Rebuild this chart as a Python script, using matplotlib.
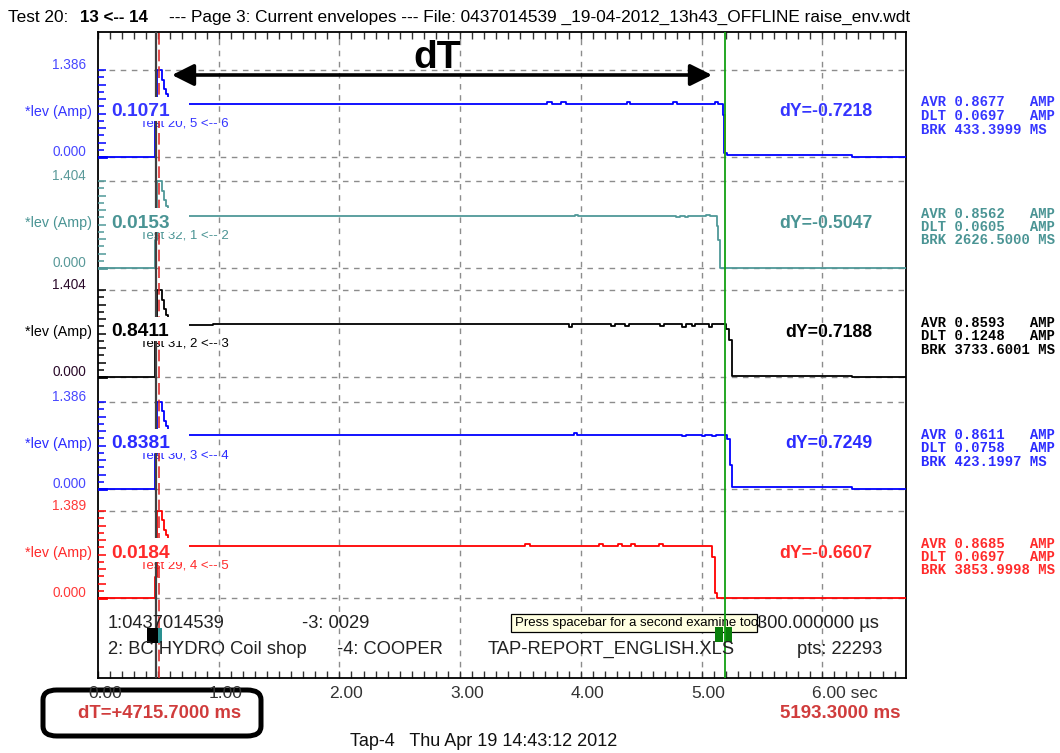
import matplotlib
matplotlib.use("Agg")
import matplotlib.pyplot as plt
import numpy as np
from matplotlib.patches import Rectangle, FancyBboxPatch

plt.rcParams['font.family'] = ['Liberation Sans', 'DejaVu Sans']

# ---------------- data ----------------
trace_names = ["Test 20, 5 <-- 6", "Test 32, 1 <-- 2", "Test 31, 2 <-- 3",
               "Test 30, 3 <-- 4", "Test 29, 4 <-- 5"]
trace_colors = ["#0000ff", "#4f9898", "#000000", "#0000ff", "#ff0000"]
label_colors = ["#3535ff", "#4a9494", "#000000", "#2b2bff", "#ff2a2a"]
scale_label_colors = ["#4848ff", "#5a9a9a", "#2a0a2a", "#4848ff", "#ff3a3a"]
scale_max = [1.386, 1.404, 1.404, 1.386, 1.389]
cursor_values = ["0.1071", "0.0153", "0.8411", "0.8381", "0.0184"]
dy_values = ["dY=-0.7218", "dY=-0.5047", "dY=0.7188", "dY=0.7249", "dY=-0.6607"]
avr_values = ["0.8677", "0.8562", "0.8593", "0.8611", "0.8685"]
dlt_values = ["0.0697", "0.0605", "0.1248", "0.0758", "0.0697"]
brk_values = ["433.3999", "2626.5000", "3733.6001", "423.1997", "3853.9998"]

trace1_t = [0.00, 0.470, 0.490, 0.530, 0.545, 0.560, 0.580, 3.720, 3.760, 3.840, 3.880,
            4.380, 4.410, 4.760, 4.800, 5.110, 5.140, 5.175, 5.190, 5.210, 6.250]
trace1_v = [0.000, 0.600, 1.386, 1.230, 1.080, 1.000, 0.845, 0.875, 0.845, 0.875, 0.845,
            0.875, 0.845, 0.875, 0.845, 0.875, 0.845, 0.670, 0.060, 0.030, 0.000]

trace2_t = [0.00, 0.470, 0.490, 0.530, 0.545, 0.560, 0.580, 3.950, 3.980, 4.790, 4.820,
            4.860, 4.890, 5.040, 5.070, 5.125, 5.140, 5.155]
trace2_v = [0.000, 0.450, 1.404, 1.250, 1.100, 1.000, 0.839, 0.860, 0.839, 0.815, 0.839,
            0.815, 0.839, 0.860, 0.839, 0.680, 0.450, 0.000]

trace3_t = [0.00, 0.470, 0.490, 0.530, 0.545, 0.560, 0.580, 0.950, 3.900, 3.930, 4.250,
            4.280, 4.370, 4.400, 4.660, 4.690, 4.840, 4.870, 4.920, 4.950, 5.060, 5.090,
            5.200, 5.230, 5.255, 6.250]
trace3_v = [0.000, 0.620, 1.404, 1.250, 1.100, 1.000, 0.840, 0.855, 0.810, 0.855, 0.815,
            0.855, 0.815, 0.855, 0.815, 0.855, 0.810, 0.855, 0.815, 0.855, 0.810, 0.855,
            0.780, 0.600, 0.020, 0.000]

trace4_t = [0.00, 0.470, 0.490, 0.530, 0.545, 0.560, 0.580, 0.940, 3.940, 3.970, 4.840,
            4.870, 5.000, 5.030, 5.090, 5.120, 5.210, 5.235, 5.250, 6.250]
trace4_v = [0.000, 0.550, 1.386, 1.240, 1.090, 1.000, 0.855, 0.865, 0.890, 0.865, 0.840,
            0.865, 0.840, 0.865, 0.840, 0.865, 0.800, 0.380, 0.030, 0.000]

trace5_t = [0.00, 0.470, 0.490, 0.530, 0.545, 0.560, 0.580, 3.540, 3.580, 4.150, 4.180,
            4.310, 4.340, 4.420, 4.450, 4.650, 4.680, 5.085, 5.110, 5.130]
trace5_v = [0.000, 0.340, 1.389, 1.240, 1.090, 1.000, 0.830, 0.860, 0.830, 0.860, 0.830,
            0.860, 0.830, 0.860, 0.830, 0.860, 0.830, 0.650, 0.080, 0.000]

traces_t = [trace1_t, trace2_t, trace3_t, trace4_t, trace5_t]
traces_v = [trace1_v, trace2_v, trace3_v, trace4_v, trace5_v]

# cursor-highlight segments: (trace index, cursor, low value, high value, colour)
highlight_trace = [0, 0, 1, 4]
highlight_cursor = [1, 2, 1, 1]
highlight_low = [0.00, 0.06, 0.00, 0.00]
highlight_high = [0.45, 0.67, 0.10, 0.34]
highlight_color = ["#ffee00", "#ff9900", "#ffaaaa", "#00ffff"]

cursor1 = 0.4776      # s
cursor2 = 5.1933      # s
marker_red = 0.505    # s
dT_ms = 4715.7
x_ticks = [0, 1, 2, 3, 4, 5, 6]

header_left = "Test 20:"
header_bold = "13 <-- 14"
header_rest = "--- Page 3: Current envelopes --- File: 0437014539 _19-04-2012_13h43_OFFLINE raise_env.wdt"

# ---------------- layout ----------------
W, H = 1060, 753
AX_L, AX_R, AX_T, AX_B = 98, 906, 32, 678
PPS = 120.7
XMAX = (AX_R - AX_L) / PPS
ZERO_PX = [157, 268, 377, 489, 598]
BAND_H = 87

fig = plt.figure(figsize=(W / 100, H / 100), dpi=100)
fig.patch.set_facecolor('white')
ax = fig.add_axes([AX_L / W, 1 - AX_B / H, (AX_R - AX_L) / W, (AX_B - AX_T) / H])
ax.set_xlim(0, XMAX)
ax.set_ylim(0, AX_B - AX_T)


def X(px):
    return (px - AX_L) / PPS


def Y(py):
    return AX_B - py


def FX(px):
    return px / W


def FY(py):
    return 1 - py / H


grid_kw = dict(color='#8c8c8c', lw=1.0, ls=(0, (4, 4)), zorder=1)
for s in x_ticks[1:]:
    ax.axvline(s, **grid_kw)
for zp in ZERO_PX:
    ax.axhline(Y(zp), **grid_kw)
    ax.axhline(Y(zp - BAND_H), **grid_kw)

# traces
for i in range(5):
    zp = ZERO_PX[i]
    t = np.append(np.array(traces_t[i]), XMAX)
    v = np.array(traces_v[i])
    v = np.append(v, v[-1])
    y = Y(zp) + v / scale_max[i] * BAND_H
    ax.step(t, y, where='post', color=trace_colors[i], lw=1.3, zorder=3)
    # left scale ticks
    for k in range(13):
        yy = Y(zp) + k * BAND_H / 12
        ln = 8 if k % 2 == 0 else 6
        ax.plot([0, X(AX_L + ln)], [yy, yy], color=trace_colors[i], lw=1.1, zorder=3,
                solid_capstyle='butt')
    ax.plot([0, X(AX_L + 8)], [Y(zp), Y(zp)], color=trace_colors[i], lw=2.0, zorder=3)

for ti, cur, lo, hi, col in zip(highlight_trace, highlight_cursor, highlight_low,
                                highlight_high, highlight_color):
    zp = ZERO_PX[ti]
    cx = cursor1 if cur == 1 else cursor2
    ax.plot([cx, cx], [Y(zp) + lo / scale_max[ti] * BAND_H, Y(zp) + hi / scale_max[ti] * BAND_H],
            color=col, lw=1.3, zorder=3.5)

# cursors
ax.axvline(cursor1, color='#404040', lw=1.6, zorder=4)
ax.axvline(marker_red, color='#e03030', lw=1.2, ls=(0, (7, 3)), zorder=4)
ax.axvline(cursor2, color='#12a012', lw=1.3, zorder=8)

# per-trace labels
for i in range(5):
    zp = ZERO_PX[i]
    lc = label_colors[i]
    sc = scale_label_colors[i]
    fig.text(FX(86), FY(zp - BAND_H - 5), f"{scale_max[i]:.3f}", ha='right', va='center',
             fontsize=9.8, color=sc)
    fig.text(FX(86), FY(zp - 5), "0.000", ha='right', va='center', fontsize=9.8, color=sc)
    fig.text(FX(92), FY(zp - 45), "*lev (Amp)", ha='right', va='center', fontsize=10.3,
             color=lc)
    # white box behind cursor value
    ax.add_patch(Rectangle((X(107), Y(zp - 36)), X(189) - X(107), 24, fc='white', ec='none',
                           zorder=6))
    ax.text(X(111), Y(zp - 45), cursor_values[i], fontsize=13.8, fontweight='bold', color=lc,
            ha='left', va='center', zorder=7)
    ax.text(X(140), Y(zp - 33), trace_names[i], fontsize=9.5, color=lc, ha='left',
            va='center', zorder=2.5)
    fig.text(FX(872), FY(zp - 45), dy_values[i], ha='right', va='center', fontsize=12.7,
             fontweight='bold', color=lc)
    stats = [f"AVR {avr_values[i]:<8} AMP", f"DLT {dlt_values[i]:<8} AMP",
             f"BRK {brk_values[i]} MS"]
    for txt, off in zip(stats, [54.5, 41, 27.5]):
        fig.text(FX(921), FY(zp - off), txt, ha='left', va='center', fontsize=10,
                 family='Liberation Mono', fontweight='semibold', color=lc)

# axes styling
for sp in ax.spines.values():
    sp.set_color('black')
    sp.set_linewidth(1.3)
ax.set_xticks(x_ticks)
ax.set_xticks(np.arange(0, XMAX, 0.1), minor=True)
ax.tick_params(axis='x', which='both', direction='in', top=True, bottom=True, length=5,
               width=1, labelbottom=False, color='#333333')
ax.set_yticks([])

for s in x_ticks:
    if s == 6:
        fig.text(FX(AX_L + s * PPS - 10), FY(693), f"{s:.2f} sec", ha='left', va='center',
                 fontsize=12.5, color='#333333')
    else:
        fig.text(FX(AX_L + s * PPS + 7), FY(693), f"{s:.2f}", ha='center', va='center',
                 fontsize=12.5, color='#333333')

# dT arrow
ax.annotate('', xy=(X(712), Y(75)), xytext=(X(172), Y(75)),
            arrowprops=dict(arrowstyle='<|-|>,head_length=0.6,head_width=0.3', lw=2.6,
                            color='black', mutation_scale=22, shrinkA=0, shrinkB=0),
            zorder=9)
ax.text(X(437), Y(58), "dT", fontsize=28, fontweight='bold', ha='center', va='center',
        zorder=9)

# bottom info text inside plot
info_kw = dict(fontsize=13.2, color='#222222', va='center', ha='left')
fig.text(FX(108), FY(623), "1:0437014539", **info_kw)
fig.text(FX(302), FY(623), "-3: 0029", **info_kw)
fig.text(FX(757), FY(623), "300.000000 µs", **info_kw)
fig.text(FX(108), FY(649), "2: BC HYDRO Coil shop", **info_kw)
fig.text(FX(337), FY(649), "-4: COOPER", **info_kw)
fig.text(FX(488), FY(649), "TAP-REPORT_ENGLISH.XLS", **info_kw)
fig.text(FX(797), FY(649), "pts: 22293", **info_kw)

# tooltip
tip = Rectangle((FX(511), FY(632)), FX(757) - FX(511), FY(614) - FY(632),
                transform=fig.transFigure, fc='#ffffe1', ec='black', lw=0.9, zorder=7,
                clip_on=False)
ax.add_patch(tip)
tip_txt = ax.text(FX(515), FY(623), "Press spacebar for a second examine tool",
                  transform=fig.transFigure, fontsize=9.5, va='center', ha='left', zorder=7.5,
                  color='black')
tip_txt.set_clip_path(tip)

# cursor flags near bottom
ax.add_patch(Rectangle((X(147), Y(643)), X(158) - X(147), 15, fc='black', ec='none', zorder=8))
ax.add_patch(Rectangle((X(158), Y(643)), X(162) - X(158), 15, fc='#2a9090', ec='none', zorder=8))
ax.add_patch(Rectangle((X(715), Y(642)), X(723) - X(715), 15, fc='#0a800a', ec='none', zorder=7))
ax.add_patch(Rectangle((X(725), Y(642)), X(732) - X(725), 15, fc='#0a800a', ec='none', zorder=7))

# header
fig.text(FX(8), FY(17), header_left, fontsize=12.4, va='center', ha='left')
fig.text(FX(80), FY(17), header_bold, fontsize=12.2, fontweight='bold', va='center', ha='left')
fig.text(FX(169), FY(17), header_rest, fontsize=12.4, va='center', ha='left')

# footer
red_txt = '#d03c3c'
fig.text(FX(160), FY(713), f"dT=+{dT_ms:.4f} ms", fontsize=13.3, fontweight='bold',
         color=red_txt, ha='center', va='center')
fig.text(FX(900), FY(713), f"{cursor2 * 1000:.4f} ms", fontsize=13.5, fontweight='bold',
         color=red_txt, ha='right', va='center')
fig.patches.append(FancyBboxPatch((FX(43), FY(736)), FX(261) - FX(43), FY(690) - FY(736),
                                  boxstyle="round,pad=0,rounding_size=0.013",
                                  transform=fig.transFigure, fc='none', ec='black', lw=3.6,
                                  figure=fig))
fig.text(FX(484), FY(742), "Tap-4   Thu Apr 19 14:43:12 2012", fontsize=13, ha='center',
         va='center', color='#111111')

fig.savefig("out.png", dpi=100)
